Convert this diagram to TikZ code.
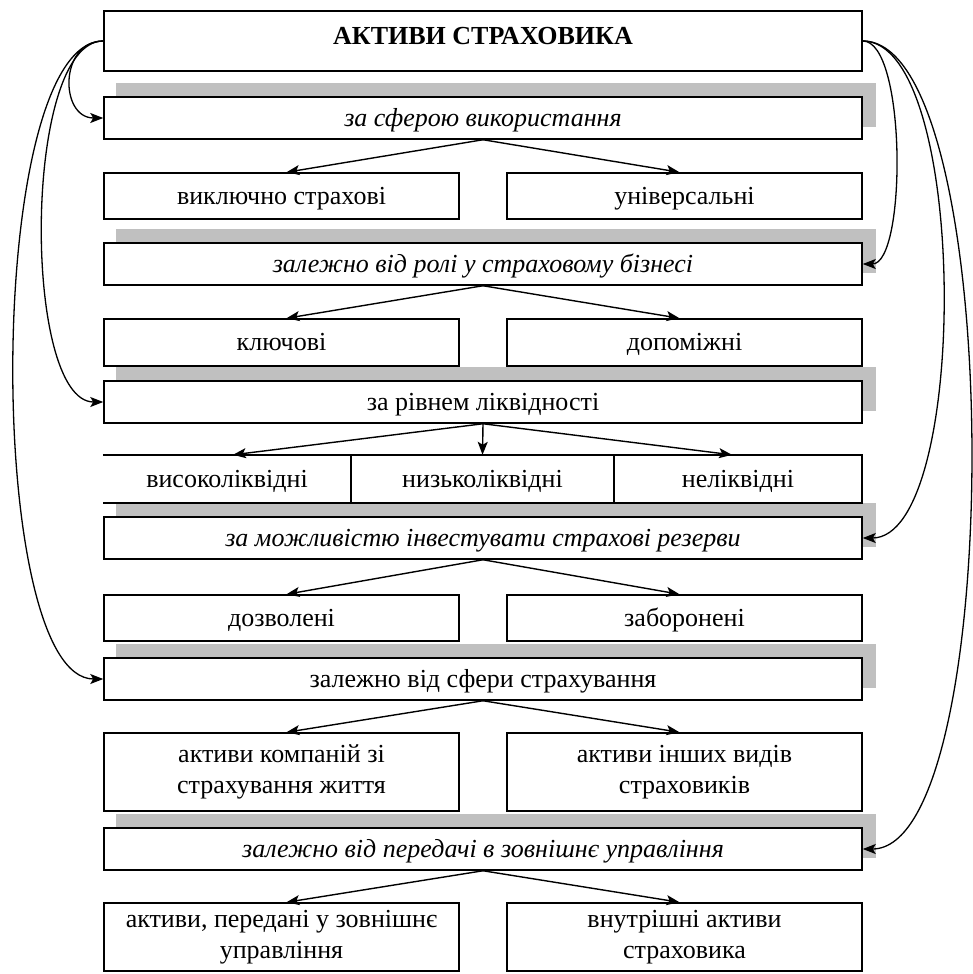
\documentclass[tikz,border=0pt]{standalone}
\usepackage{fontspec}
\setmainfont{Liberation Serif}
\usetikzlibrary{arrows.meta,backgrounds}
\definecolor{shadowgray}{RGB}{192,192,192}
\begin{document}
\begin{tikzpicture}[x=1pt,y=-1pt,
  every node/.style={font=\fontsize{26}{31}\selectfont},
  one/.style={text height=19.5pt,text depth=3.5pt},
  box/.style={draw=black,line width=1.5pt,fill=white,inner sep=0pt,align=center,minimum width=758pt,minimum height=42pt},
  sub/.style={draw=black,line width=1.5pt,fill=white,inner sep=0pt,align=center,minimum width=355pt},
  cell/.style={inner sep=0pt,minimum height=48pt,one},
  arr/.style={line width=1.4pt,-{Stealth[length=13pt,width=10pt,inset=3pt]}},
  curve/.style={line width=1.3pt,-{Stealth[length=13pt,width=10pt,inset=3pt]}},
  shadowbox/.style={fill=shadowgray}
]
\useasboundingbox (0,0) rectangle (972,974);

% top box
\node[box,minimum height=60pt,text height=16pt,text depth=8pt,font=\fontsize{26}{31}\selectfont\bfseries] (top) at (483,41) {АКТИВИ СТРАХОВИКА};

% category boxes
\node[box,one] (c1) at (483,118) {\itshape за сферою використання};
\node[box,one] (c2) at (483,264) {\itshape залежно від ролі у страховому бізнесі};
\node[box,one] (c3) at (483,402) {за рівнем ліквідності};
\node[box,one] (c4) at (483,538) {\itshape за можливістю інвестувати страхові резерви};
\node[box,one] (c5) at (483,679) {залежно від сфери страхування};
\node[box,one] (c6) at (483,849) {\itshape залежно від передачі в зовнішнє управління};

% child rows
\node[sub,one,minimum height=46pt] (r1l) at (281.5,196) {виключно страхові};
\node[sub,one,minimum height=46pt] (r1r) at (684.5,196) {універсальні};
\node[sub,one,minimum height=47pt] (r2l) at (281.5,342.5) {ключові};
\node[sub,one,minimum height=47pt] (r2r) at (684.5,342.5) {допоміжні};

\node[cell,minimum width=248pt] (h1) at (227,479) {високоліквідні};
\node[cell,minimum width=263pt] (h2) at (482.5,479) {низьколіквідні};
\node[cell,minimum width=248pt] (h3) at (738,479) {неліквідні};
\draw[line width=1.5pt] (h1.north west) -- (h3.north east) -- (h3.south east) -- (h1.south west);
\draw[line width=1.5pt] (h1.north east) -- (h1.south east);
\draw[line width=1.5pt] (h2.north east) -- (h2.south east);

\node[sub,one,minimum height=46pt] (r4l) at (281.5,618) {дозволені};
\node[sub,one,minimum height=46pt] (r4r) at (684.5,618) {заборонені};
\node[sub,minimum height=78pt] (r5l) at (281.5,772) {активи компаній зі\\страхування життя};
\node[sub,minimum height=78pt] (r5r) at (684.5,772) {активи інших видів\\страховиків};
\node[sub,minimum height=68pt] (r6l) at (281.5,937) {активи, передані у зовнішнє\\управління};
\node[sub,minimum height=68pt] (r6r) at (684.5,937) {внутрішні активи\\страховика};

% shadows
\begin{scope}[on background layer]
\foreach \c in {c1,c2,c3,c4,c5,c6}{
  \fill[shadowbox] ([shift={(13pt,13pt)}]\c.south west) rectangle ([shift={(13pt,13pt)}]\c.north east);
}
\end{scope}

% branching arrows
\draw[arr] (c1.south) -- ([xshift=5pt]r1l.north);
\draw[arr] (c1.south) -- ([xshift=-5pt]r1r.north);
\draw[arr] (c2.south) -- ([xshift=5pt]r2l.north);
\draw[arr] (c2.south) -- ([xshift=-5pt]r2r.north);
\draw[arr] (c3.south) -- ([xshift=6pt]h1.north);
\draw[arr] (c3.south) -- (h2.north);
\draw[arr] (c3.south) -- ([xshift=-6pt]h3.north);
\draw[arr] (c4.south) -- ([xshift=5pt]r4l.north);
\draw[arr] (c4.south) -- ([xshift=-5pt]r4r.north);
\draw[arr] (c5.south) -- ([xshift=5pt]r5l.north);
\draw[arr] (c5.south) -- ([xshift=-5pt]r5r.north);
\draw[arr] (c6.south) -- ([xshift=5pt]r6l.north);
\draw[arr] (c6.south) -- ([xshift=-5pt]r6r.north);

% curved arrows left
\draw[curve] (top.west) .. controls +(-44,0) and +(-44,0) .. (c1.west);
\draw[curve] (top.west) .. controls +(-81,0) and +(-81,0) .. (c3.west);
\draw[curve] (top.west) .. controls +(-119,0) and +(-119,0) .. (c5.west);
% curved arrows right
\draw[curve] (top.east) .. controls +(44,0) and +(44,0) .. (c2.east);
\draw[curve] (top.east) .. controls +(107,0) and +(107,0) .. (c4.east);
\draw[curve] (top.east) .. controls +(144,0) and +(144,0) .. (c6.east);
\end{tikzpicture}
\end{document}
